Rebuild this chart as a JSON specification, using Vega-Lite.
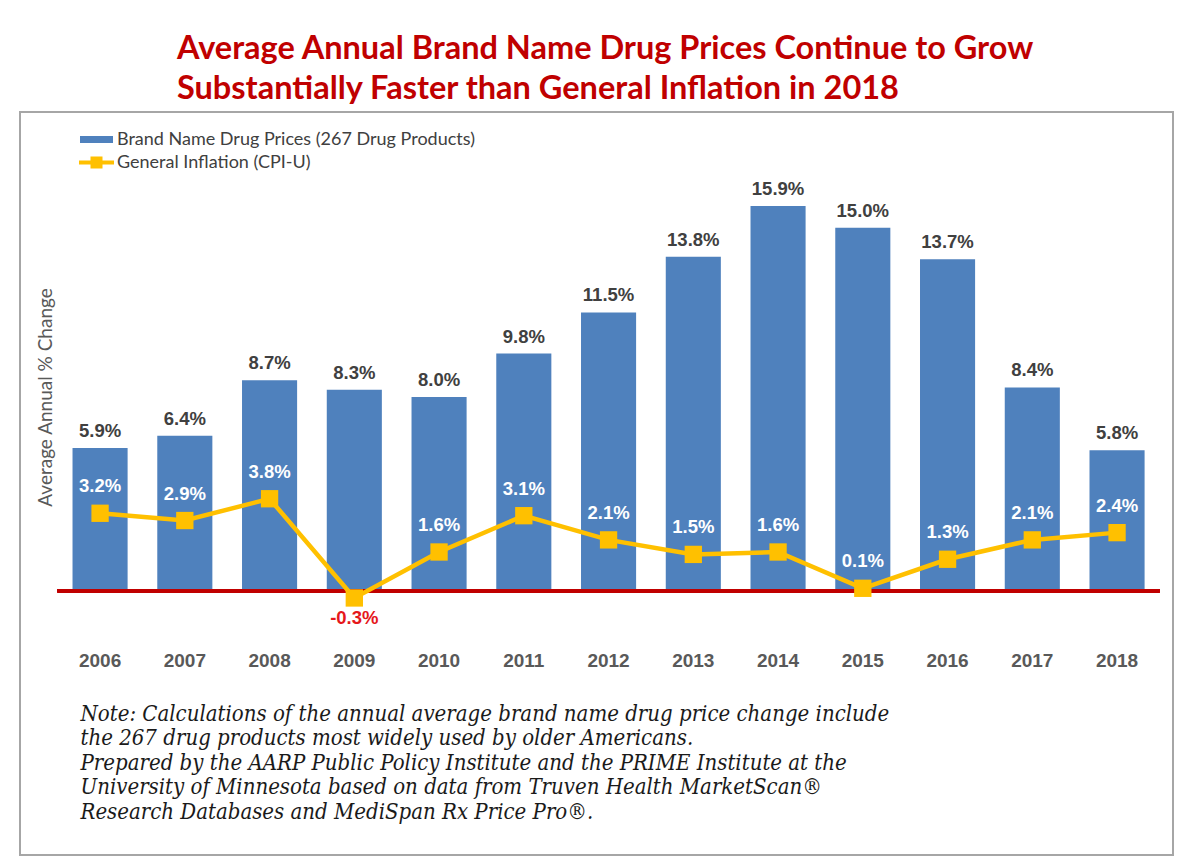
{
  "$schema": "https://vega.github.io/schema/vega-lite/v6.json",
  "width": 1153,
  "height": 743,
  "autosize": {"type": "none"},
  "padding": {"left": 20, "top": 112, "right": 21, "bottom": 12},
  "background": "white",
  "title": {
    "text": ["Average Annual Brand Name Drug Prices Continue to Grow", "Substantially Faster than General Inflation in 2018"],
    "font": "Lato",
    "fontSize": 32.5,
    "fontWeight": "bold",
    "color": "#C00000",
    "anchor": "start",
    "align": "left",
    "frame": "group",
    "dx": 157,
    "lineHeight": 40,
    "offset": 7
  },
  "config": {"view": {"stroke": "#A6A6A6", "strokeWidth": 2}},
  "data": {
    "values": [
      {"year": "2006", "series": "Brand Name Drug Prices (267 Drug Products)", "value": 5.9, "label": "5.9%"},
      {"year": "2007", "series": "Brand Name Drug Prices (267 Drug Products)", "value": 6.4, "label": "6.4%"},
      {"year": "2008", "series": "Brand Name Drug Prices (267 Drug Products)", "value": 8.7, "label": "8.7%"},
      {"year": "2009", "series": "Brand Name Drug Prices (267 Drug Products)", "value": 8.3, "label": "8.3%"},
      {"year": "2010", "series": "Brand Name Drug Prices (267 Drug Products)", "value": 8.0, "label": "8.0%"},
      {"year": "2011", "series": "Brand Name Drug Prices (267 Drug Products)", "value": 9.8, "label": "9.8%"},
      {"year": "2012", "series": "Brand Name Drug Prices (267 Drug Products)", "value": 11.5, "label": "11.5%"},
      {"year": "2013", "series": "Brand Name Drug Prices (267 Drug Products)", "value": 13.8, "label": "13.8%"},
      {"year": "2014", "series": "Brand Name Drug Prices (267 Drug Products)", "value": 15.9, "label": "15.9%"},
      {"year": "2015", "series": "Brand Name Drug Prices (267 Drug Products)", "value": 15.0, "label": "15.0%"},
      {"year": "2016", "series": "Brand Name Drug Prices (267 Drug Products)", "value": 13.7, "label": "13.7%"},
      {"year": "2017", "series": "Brand Name Drug Prices (267 Drug Products)", "value": 8.4, "label": "8.4%"},
      {"year": "2018", "series": "Brand Name Drug Prices (267 Drug Products)", "value": 5.8, "label": "5.8%"},
      {"year": "2006", "series": "General Inflation (CPI-U)", "value": 3.2, "label": "3.2%"},
      {"year": "2007", "series": "General Inflation (CPI-U)", "value": 2.9, "label": "2.9%"},
      {"year": "2008", "series": "General Inflation (CPI-U)", "value": 3.8, "label": "3.8%"},
      {"year": "2009", "series": "General Inflation (CPI-U)", "value": -0.3, "label": "-0.3%"},
      {"year": "2010", "series": "General Inflation (CPI-U)", "value": 1.6, "label": "1.6%"},
      {"year": "2011", "series": "General Inflation (CPI-U)", "value": 3.1, "label": "3.1%"},
      {"year": "2012", "series": "General Inflation (CPI-U)", "value": 2.1, "label": "2.1%"},
      {"year": "2013", "series": "General Inflation (CPI-U)", "value": 1.5, "label": "1.5%"},
      {"year": "2014", "series": "General Inflation (CPI-U)", "value": 1.6, "label": "1.6%"},
      {"year": "2015", "series": "General Inflation (CPI-U)", "value": 0.1, "label": "0.1%"},
      {"year": "2016", "series": "General Inflation (CPI-U)", "value": 1.3, "label": "1.3%"},
      {"year": "2017", "series": "General Inflation (CPI-U)", "value": 2.1, "label": "2.1%"},
      {"year": "2018", "series": "General Inflation (CPI-U)", "value": 2.4, "label": "2.4%"}
    ]
  },
  "encoding": {
    "x": {
      "field": "year",
      "type": "ordinal",
      "scale": {"paddingInner": 0.35, "paddingOuter": 0.4775, "align": 0.649},
      "axis": {
        "orient": "bottom",
        "offset": -195,
        "domain": false,
        "ticks": false,
        "tickSize": 0,
        "grid": false,
        "labelAngle": 0,
        "labelPadding": 6,
        "labelBaseline": "alphabetic",
        "labelFont": "Liberation Sans",
        "labelFontWeight": "bold",
        "labelFontSize": 19,
        "labelColor": "#595959",
        "title": [
          "Note: Calculations of the annual average brand name drug price change include",
          "the 267 drug products most widely used by older Americans.",
          "Prepared by the AARP Public Policy Institute and the PRIME Institute at the",
          "University of Minnesota based on data from Truven Health MarketScan®",
          "Research Databases and MediSpan Rx Price Pro®."
        ],
        "titleFont": "DejaVu Serif Condensed, Liberation Serif",
        "titleFontStyle": "italic",
        "titleFontWeight": "normal",
        "titleFontSize": 22,
        "titleColor": "#1A1A1A",
        "titleAnchor": "start",
        "titleAlign": "left",
        "titleBaseline": "top",
        "titleX": 60,
        "titleY": 43,
        "titleLineHeight": 24.6
      }
    },
    "y": {
      "field": "value",
      "type": "quantitative",
      "scale": {"domain": [-10.92, 19.78], "nice": false, "zero": false},
      "axis": {
        "domain": false,
        "ticks": false,
        "labels": false,
        "grid": false,
        "title": "Average Annual % Change",
        "titleFont": "Lato",
        "titleFontSize": 19,
        "titleFontWeight": "normal",
        "titleColor": "#595959",
        "titleAngle": -90,
        "titleAlign": "center",
        "titleBaseline": "alphabetic",
        "titleX": 31,
        "titleY": 285
      }
    }
  },
  "layer": [
    {
      "transform": [{"filter": "datum.series === 'Brand Name Drug Prices (267 Drug Products)'"}],
      "mark": {"type": "bar"},
      "encoding": {
        "color": {
          "field": "series",
          "type": "nominal",
          "scale": {
            "domain": ["Brand Name Drug Prices (267 Drug Products)", "General Inflation (CPI-U)"],
            "range": ["#4F81BD", "#FFC000"]
          },
          "legend": {
            "orient": "none",
            "legendX": 66.5,
            "legendY": 17.5,
            "title": null,
            "padding": 0,
            "symbolSize": 400,
            "labelOffset": 10.5,
            "rowPadding": 4,
            "labelFont": "Lato",
            "labelFontSize": 18,
            "labelColor": "#404040",
            "labelLimit": 600,
            "encode": {
              "symbols": {
                "update": {
                  "shape": {"signal": "datum.value === 'Brand Name Drug Prices (267 Drug Products)' ? 'M-1.65,-0.35H1.65V0.35H-1.65Z' : 'M-1.75,-0.2H1.75V0.2H-1.75Z M-0.6,-0.6H0.6V0.6H-0.6Z'"},
                  "fill": {"signal": "datum.value === 'Brand Name Drug Prices (267 Drug Products)' ? '#4F81BD' : '#FFC000'"},
                  "stroke": {"value": "transparent"},
                  "strokeWidth": {"value": 0},
                  "size": {"value": 400},
                  "opacity": {"value": 1}
                }
              }
            }
          }
        }
      }
    },
    {
      "mark": {"type": "rule", "color": "#C00000", "strokeWidth": 3},
      "encoding": {
        "x": {"datum": "2006", "bandPosition": -0.27},
        "x2": {"datum": "2018", "bandPosition": 1.27},
        "y": {"datum": 0}
      }
    },
    {
      "transform": [{"filter": "datum.series === 'General Inflation (CPI-U)'"}],
      "mark": {"type": "line", "strokeWidth": 4.5},
      "encoding": {"color": {"field": "series", "type": "nominal"}}
    },
    {
      "transform": [{"filter": "datum.series === 'General Inflation (CPI-U)'"}],
      "mark": {"type": "point", "shape": "square", "filled": true, "size": 300, "opacity": 1},
      "encoding": {"color": {"field": "series", "type": "nominal"}}
    },
    {
      "transform": [{"filter": "datum.series === 'Brand Name Drug Prices (267 Drug Products)'"}],
      "mark": {"type": "text", "baseline": "alphabetic", "dy": -11, "font": "Liberation Sans", "fontWeight": "bold", "fontSize": 18.5, "color": "#404040"},
      "encoding": {"text": {"field": "label"}}
    },
    {
      "transform": [{"filter": "datum.series === 'General Inflation (CPI-U)' && datum.value >= 0"}],
      "mark": {"type": "text", "baseline": "alphabetic", "dy": -21, "font": "Liberation Sans", "fontWeight": "bold", "fontSize": 18.5, "color": "#FFFFFF"},
      "encoding": {"text": {"field": "label"}}
    },
    {
      "transform": [{"filter": "datum.series === 'General Inflation (CPI-U)' && datum.value < 0"}],
      "mark": {"type": "text", "baseline": "alphabetic", "dy": 26, "font": "Liberation Sans", "fontWeight": "bold", "fontSize": 18.5, "color": "#E5171B"},
      "encoding": {"text": {"field": "label"}}
    }
  ]
}
